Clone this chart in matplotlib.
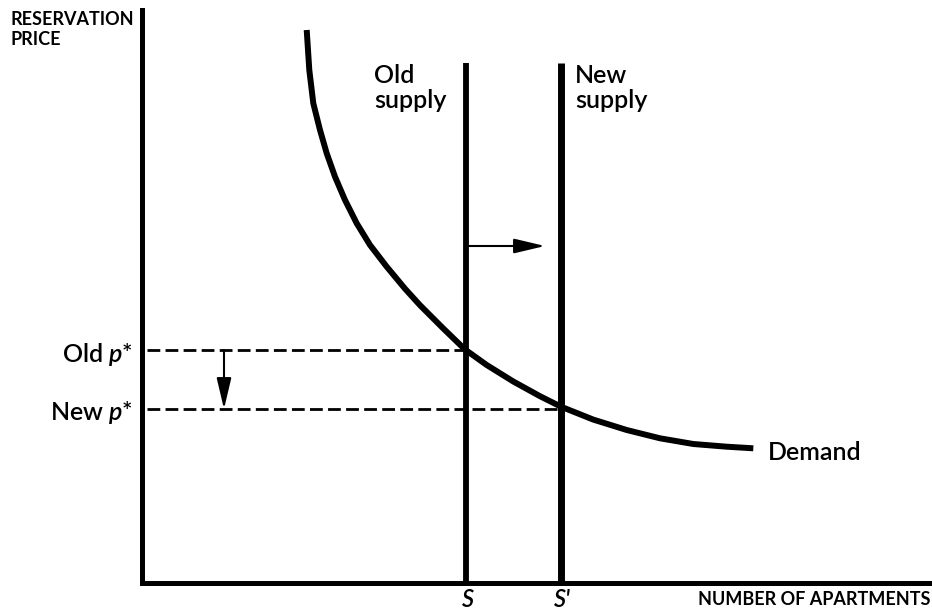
import matplotlib
matplotlib.use("Agg")
import matplotlib.pyplot as plt

# ---- data (quantity / price units measured from the origin) ----
demand_q = [164.7, 167.3, 171.3, 178.0, 184.7, 193.0, 203.0, 214.7, 228.0, 244.7, 263.0,
            278.0, 301.3, 323.0, 344.7, 371.3, 398.0, 419.0, 451.3, 484.7, 518.0, 551.3,
            584.7, 611.3]
demand_p = [553.0, 513.0, 479.7, 453.0, 429.7, 406.3, 383.0, 359.7, 338.0, 316.3, 294.3,
            277.8, 254.5, 233.5, 218.0, 201.5, 186.8, 176.3, 163.4, 153.0, 144.7, 139.0,
            136.3, 134.7]
S_old = 324
S_new = 419
supply_top = 520
p_old = 233
p_new = 174
shift_arrow_y = 337
shift_arrow_end = 403
price_arrow_x = 82

x_max = 790
y_max = 573

plt.rcParams['font.family'] = ['Lato', 'DejaVu Sans']
plt.rcParams['mathtext.fontset'] = 'custom'
plt.rcParams['mathtext.it'] = 'Lato:italic:semibold'
plt.rcParams['mathtext.rm'] = 'Lato:semibold'

fig = plt.figure(figsize=(9.32, 6.10), dpi=100)
ax = fig.add_axes([142/932, (610-583)/610, (932-142)/932, (583-10)/610])
ax.set_xlim(0, x_max)
ax.set_ylim(0, y_max)
for s in ['top', 'right']:
    ax.spines[s].set_visible(False)
for s in ['left', 'bottom']:
    ax.spines[s].set_linewidth(3.6)
    ax.spines[s].set_color('black')
    ax.spines[s].set_capstyle('projecting')
ax.set_xticks([])
ax.set_yticks([])

# demand curve
ax.plot(demand_q, demand_p, color='black', lw=4.3, solid_capstyle='butt', solid_joinstyle='round')

# supply lines
ax.plot([S_old, S_old], [0, supply_top], color='black', lw=4.2, solid_capstyle='butt')
ax.plot([S_new, S_new], [0, supply_top], color='black', lw=5.0, solid_capstyle='butt')

# dashed price lines
ax.plot([5, S_old], [p_old, p_old], color='black', lw=2.0, dashes=(4.6, 1.9))
ax.plot([5, S_new], [p_new, p_new], color='black', lw=2.0, dashes=(4.6, 1.9))

# arrows
astyle = '-|>,head_length=1.9,head_width=0.45'
ax.annotate('', xy=(shift_arrow_end, shift_arrow_y), xytext=(S_old, shift_arrow_y),
            arrowprops=dict(arrowstyle=astyle, color='black', lw=1.5, shrinkA=0, shrinkB=0))
ax.annotate('', xy=(price_arrow_x, p_new), xytext=(price_arrow_x, p_old),
            arrowprops=dict(arrowstyle=astyle, color='black', lw=1.5, shrinkA=0, shrinkB=0))

# labels
bold_kw = dict(fontsize=13, fontweight='bold', va='baseline')
ax.text(-132, 558, 'RESERVATION', ha='left', **bold_kw)
ax.text(-132, 538, 'PRICE', ha='left', **bold_kw)
ax.text(789, -22, 'NUMBER OF APARTMENTS', ha='right', **bold_kw)

norm_kw = dict(fontsize=18, fontweight='semibold', va='baseline')
ax.text(-9, 221, r'Old $p$*', ha='right', **norm_kw)
ax.text(-9, 163, r'New $p$*', ha='right', **norm_kw)
ax.text(232, 500, 'Old', ha='left', **norm_kw)
ax.text(232, 475, 'supply', ha='left', **norm_kw)
ax.text(433, 500, 'New', ha='left', **norm_kw)
ax.text(433, 475, 'supply', ha='left', **norm_kw)
ax.text(626, 123, 'Demand', ha='left', **norm_kw)
ax.text(S_old + 2, -24, 'S', ha='center', fontsize=17, fontweight='semibold',
        style='italic', va='baseline')
ax.text(S_new + 1, -24, "S'", ha='center', fontsize=17, fontweight='semibold',
        style='italic', va='baseline')

fig.savefig('out.png', dpi=100)
